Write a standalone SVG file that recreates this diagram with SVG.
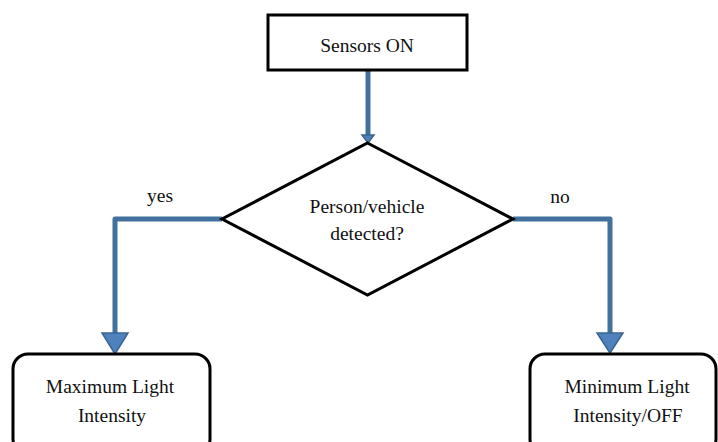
<svg xmlns="http://www.w3.org/2000/svg" width="718" height="442" viewBox="0 0 718 442">
<style>
.box{fill:#fff;stroke:#000;stroke-width:3}
.t{font-family:'Liberation Serif','DejaVu Serif',serif;font-size:19.5px;fill:#111;text-anchor:middle}
.c{fill:none;stroke:#41719c;stroke-width:5;stroke-linejoin:round}
.ah{fill:#4f81bd;stroke:#3a6591;stroke-width:1.5;stroke-linejoin:miter}
</style>
<rect width="718" height="442" fill="#fff"/>
<g id="connectors">
<path class="c" d="M368 70 V136"/>
<polygon class="ah" points="362,135 374,135 368,143"/>
<path class="c" d="M222 219 H115 V334"/>
<polygon class="ah" points="102,333 128,333 115,354"/>
<path class="c" d="M513 219 H610 V334"/>
<polygon class="ah" points="597,333 623,333 610,353"/>
<text class="t" x="160" y="202">yes</text>
<text class="t" x="560" y="203">no</text>
</g>
<g id="sensors-on">
<rect class="box" x="268" y="15" width="199" height="55"/>
<text class="t" x="367" y="52">Sensors ON</text>
</g>
<g id="decision">
<polygon class="box" points="367.5,143 513,219 367.5,295 222,219"/>
<text class="t" x="367" y="213">Person/vehicle</text>
<text class="t" x="367" y="240">detected?</text>
</g>
<g id="max-light">
<rect class="box" x="13" y="354" width="197" height="100" rx="15"/>
<text class="t" x="110" y="393">Maximum Light</text>
<text class="t" x="112" y="422">Intensity</text>
</g>
<g id="min-light">
<rect class="box" x="530" y="354" width="186" height="100" rx="15"/>
<text class="t" x="627" y="393">Minimum Light</text>
<text class="t" x="628" y="422">Intensity/OFF</text>
</g>
</svg>
